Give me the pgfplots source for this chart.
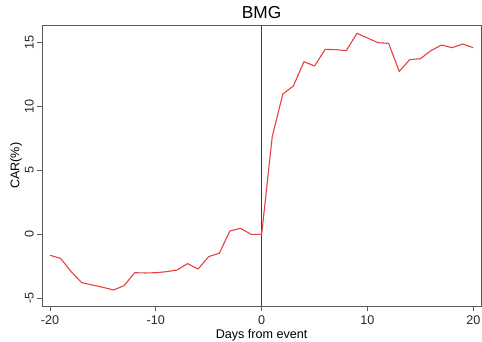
\documentclass[border=0pt]{standalone}
\usepackage{pgfplots}
\pgfplotsset{compat=1.18}
\usepackage{fontspec}
\setmainfont{Liberation Sans}
\definecolor{carred}{RGB}{232,64,64}
\definecolor{frame}{RGB}{90,90,90}
\begin{document}
\begin{tikzpicture}
\begin{axis}[
  scale only axis,
  width=438.7pt, height=280.3pt,
  xmin=-20.73, xmax=20.73,
  ymin=-5.6, ymax=16.3,
  axis line style={frame, line width=0.9pt},
  tick style={frame, line width=0.8pt},
  xtick={-20,-10,0,10,20},
  ytick={-5,0,5,10,15},
  tick align=outside,
  xtick pos=bottom, ytick pos=left,
  major tick length=5pt,
  /pgf/number format/assume math mode=true,
  font=\fontsize{12.6pt}{14pt}\selectfont,
  ticklabel style={font=\fontsize{12.6pt}{14pt}\selectfont, text=black!85},
  yticklabel style={rotate=90, anchor=south, yshift=0pt},
  xticklabel style={anchor=north, yshift=-1pt},
  xlabel={Days from event},
  ylabel={CAR(\%)},
  xlabel style={yshift=1.5pt},
  ylabel style={yshift=-4pt},
  title={BMG},
  title style={font=\fontsize{17.3pt}{19pt}\selectfont, yshift=-3pt},
  clip=false,
]
\addplot[black!75, line width=0.9pt, forget plot] coordinates {(0,-5.6) (0,16.3)};
\addplot[carred, line width=1.1pt, line join=round] coordinates {
(-20,-1.64) (-19,-1.88) (-18,-2.92) (-17,-3.78) (-16,-3.96) (-15,-4.14)
(-14,-4.35) (-13,-4.01) (-12,-3.0) (-11,-3.02) (-10,-3.0) (-9,-2.92)
(-8,-2.79) (-7,-2.29) (-6,-2.71) (-5,-1.74) (-4,-1.48) (-3,0.26)
(-2,0.47) (-1,0.0) (0,0.0) (1,7.63) (2,10.96) (3,11.59) (4,13.49)
(5,13.15) (6,14.45) (7,14.43) (8,14.35) (9,15.70) (10,15.34) (11,14.97)
(12,14.92) (13,12.73) (14,13.65) (15,13.72) (16,14.35) (17,14.79)
(18,14.58) (19,14.87) (20,14.58)
};
\end{axis}
\pgfresetboundingbox
\path ([shift={(-42.3pt,-36pt)}]current axis.south west) rectangle ([shift={(1pt,25.7pt)}]current axis.north east);
\end{tikzpicture}
\end{document}
